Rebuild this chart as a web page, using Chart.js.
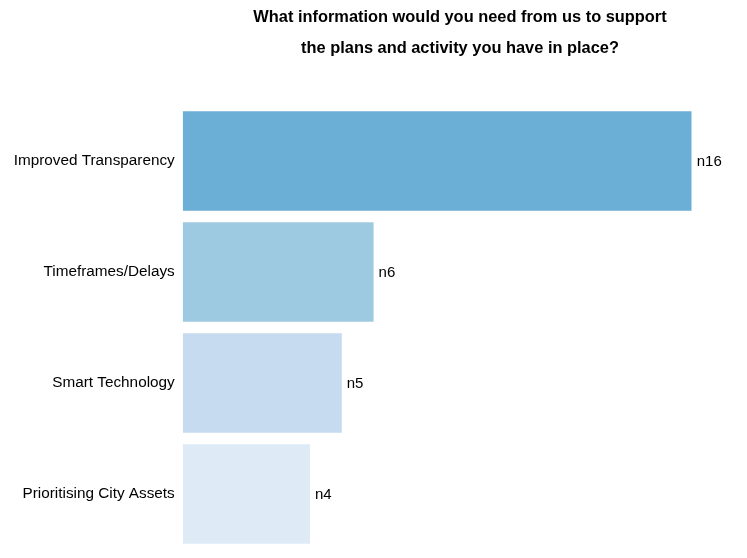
<!DOCTYPE html>
<html>
<head>
<meta charset="utf-8">
<script src="https://cdn.jsdelivr.net/npm/chart.js@4"></script>
<style>
  html, body { margin: 0; padding: 0; background: #ffffff; }
  #wrap { width: 747px; height: 558px; position: relative; }
</style>
</head>
<body>
<div id="wrap"><canvas id="chart" width="747" height="558"></canvas></div>
<script>
// Survey responses: information requested to support existing plans
const categories = ['Improved Transparency', 'Timeframes/Delays', 'Smart Technology', 'Prioritising City Assets'];
const counts = [16, 6, 5, 4];
const barColors = ['#6baed6', '#9ecae1', '#c6dbef', '#deebf7'];
const titleLines = ['What information would you need from us to support', 'the plans and activity you have in place?'];

const FONT = '"Liberation Sans", Arial, Helvetica, sans-serif';

// Two-line heading drawn above the plot
const headingPlugin = {
  id: 'heading',
  afterDraw(chart) {
    const ctx = chart.ctx;
    ctx.save();
    ctx.font = 'bold 16.4px ' + FONT;
    ctx.fillStyle = '#000000';
    ctx.textAlign = 'center';
    ctx.textBaseline = 'alphabetic';
    const cx = 460;
    titleLines.forEach((line, i) => {
      ctx.fillText(line, cx, 22 + i * 31);
    });
    ctx.restore();
  }
};

// "n" count labels at the end of each bar
const countLabels = {
  id: 'countLabels',
  afterDatasetsDraw(chart) {
    const ctx = chart.ctx;
    const meta = chart.getDatasetMeta(0);
    ctx.save();
    ctx.font = '15px ' + FONT;
    ctx.fillStyle = '#000000';
    ctx.textAlign = 'left';
    ctx.textBaseline = 'middle';
    meta.data.forEach((bar, i) => {
      ctx.fillText('n' + counts[i], bar.x + 5, bar.y + 1);
    });
    ctx.restore();
  }
};

new Chart(document.getElementById('chart'), {
  type: 'bar',
  data: {
    labels: categories,
    datasets: [{
      data: counts,
      backgroundColor: barColors,
      borderWidth: 0,
      categoryPercentage: 1,
      barPercentage: 0.895
    }]
  },
  options: {
    indexAxis: 'y',
    responsive: false,
    animation: false,
    events: [],
    layout: { padding: { top: 105.5, right: 55.3, bottom: 8.5, left: 0 } },
    plugins: {
      legend: { display: false },
      title: { display: false },
      tooltip: { enabled: false }
    },
    scales: {
      x: {
        display: false,
        min: 0,
        max: 16
      },
      y: {
        grid: { display: false, drawTicks: false },
        border: { display: false },
        ticks: {
          color: '#000000',
          font: { family: FONT, size: 15.3 },
          padding: 8
        },
        afterFit(scale) {
          scale.width = 182.7;
          scale.paddingTop = 0;
          scale.paddingBottom = 0;
        }
      }
    }
  },
  plugins: [headingPlugin, countLabels]
});
</script>
</body>
</html>
